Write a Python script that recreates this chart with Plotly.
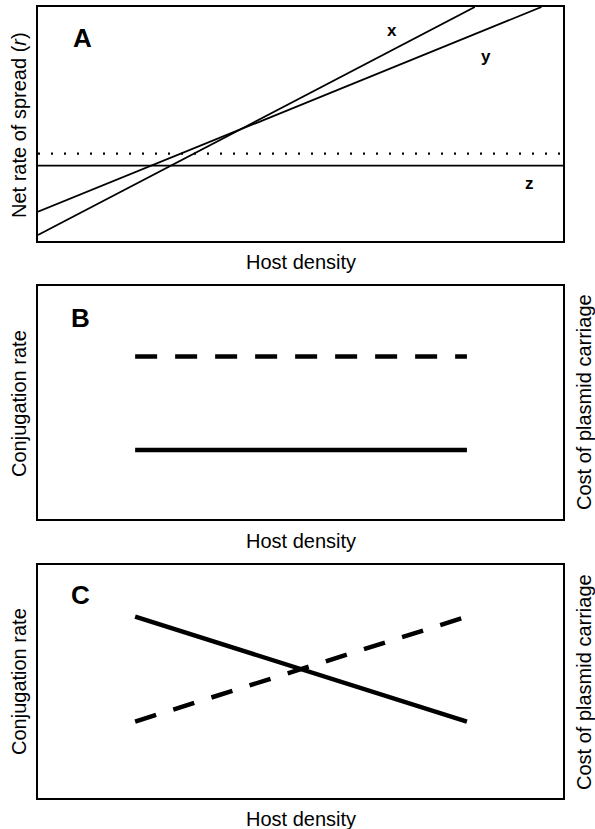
import plotly.graph_objects as go

# Host density axis is unitless (0 = low, 1 = high)
# Panel A: net rate of spread for three scenarios
a_line_x_density = [0.0, 0.832]
a_line_x_rate = [0.026, 1.0]
a_line_y_density = [0.0, 0.959]
a_line_y_rate = [0.125, 1.0]
a_line_z_density = [0.0, 1.0]
a_line_z_rate = [0.322, 0.322]
a_threshold_density = [0.0, 1.0]
a_threshold_rate = [0.373, 0.373]

# Panel B: constant conjugation rate and cost of carriage
b_density = [0.185, 0.817]
b_conjugation = [0.296, 0.296]
b_cost = [0.696, 0.696]

# Panel C: conjugation falls while cost rises with density
c_density = [0.185, 0.817]
c_conjugation = [0.778, 0.327]
c_cost = [0.327, 0.778]

W, H = 595, 829
FONT = "Liberation Sans, Arial, sans-serif"


def px_x(v):
    return v / W


def px_y(v):
    return 1 - v / H


x_dom = [px_x(38), px_x(563)]
panels = {
    "1": [px_y(241), px_y(7)],
    "2": [px_y(519), px_y(285.7)],
    "3": [px_y(797.7), px_y(565)],
}

fig = go.Figure()

thin = dict(color="black", width=1.8)
thick = dict(color="black", width=4.5)
thick_dash = dict(color="black", width=4.5, dash="22px,18px")

fig.add_trace(go.Scatter(x=a_line_x_density, y=a_line_x_rate, mode="lines",
                         line=thin, xaxis="x", yaxis="y"))
fig.add_trace(go.Scatter(x=a_line_y_density, y=a_line_y_rate, mode="lines",
                         line=thin, xaxis="x", yaxis="y"))
fig.add_trace(go.Scatter(x=a_line_z_density, y=a_line_z_rate, mode="lines",
                         line=thin, xaxis="x", yaxis="y"))
fig.add_trace(go.Scatter(x=a_threshold_density, y=a_threshold_rate, mode="lines",
                         line=dict(color="black", width=2.2, dash="2px,11px"),
                         xaxis="x", yaxis="y"))

fig.add_trace(go.Scatter(x=b_density, y=b_cost, mode="lines",
                         line=thick_dash, xaxis="x2", yaxis="y2"))
fig.add_trace(go.Scatter(x=b_density, y=b_conjugation, mode="lines",
                         line=thick, xaxis="x2", yaxis="y2"))

fig.add_trace(go.Scatter(x=c_density, y=c_cost, mode="lines",
                         line=thick_dash, xaxis="x3", yaxis="y3"))
fig.add_trace(go.Scatter(x=c_density, y=c_conjugation, mode="lines",
                         line=thick, xaxis="x3", yaxis="y3"))

axis_style = dict(range=[0, 1], showgrid=False, zeroline=False,
                  showticklabels=False, ticks="", showline=True,
                  mirror=True, linecolor="black", linewidth=2,
                  fixedrange=True)

layout_axes = {}
for k, ydom in panels.items():
    suffix = "" if k == "1" else k
    layout_axes["xaxis" + suffix] = dict(axis_style, domain=x_dom,
                                         anchor="y" + suffix)
    layout_axes["yaxis" + suffix] = dict(axis_style, domain=ydom,
                                         anchor="x" + suffix)

annotations = []


def note(text, x, y, size=20, bold=False, angle=0):
    annotations.append(dict(
        text=f"<b>{text}</b>" if bold else text,
        x=x, y=y, xref="paper", yref="paper",
        showarrow=False, textangle=angle,
        xanchor="center", yanchor="middle",
        font=dict(family=FONT, size=size, color="black"),
    ))


# panel letters
note("A", px_x(82), px_y(38), size=26, bold=True)
note("B", px_x(80), px_y(318), size=26, bold=True)
note("C", px_x(80), px_y(595), size=26, bold=True)

# scenario labels in panel A
note("x", px_x(392), px_y(31), size=17, bold=True)
note("y", px_x(486), px_y(56), size=17, bold=True)
note("z", px_x(529), px_y(184), size=17, bold=True)

# axis titles
note("Net rate of spread (<i>r</i>)", px_x(19), px_y(125), angle=-90)
note("Host density", px_x(301), px_y(262))
note("Conjugation rate", px_x(19), px_y(404), angle=-90)
note("Cost of plasmid carriage", px_x(584), px_y(402), angle=-90)
note("Host density", px_x(301), px_y(541))
note("Conjugation rate", px_x(19), px_y(682), angle=-90)
note("Cost of plasmid carriage", px_x(584), px_y(682), angle=-90)
note("Host density", px_x(301), px_y(819))

fig.update_layout(
    width=W, height=H,
    margin=dict(l=0, r=0, t=0, b=0),
    paper_bgcolor="white", plot_bgcolor="white",
    showlegend=False,
    font=dict(family=FONT, color="black"),
    annotations=annotations,
    **layout_axes,
)

fig.write_html("out.html", config={"displayModeBar": False})
